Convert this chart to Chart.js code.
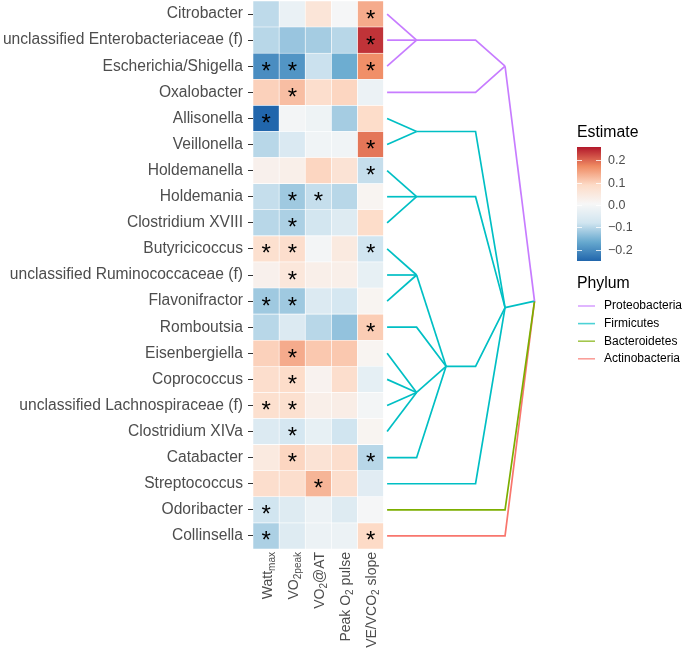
<!DOCTYPE html>
<html>
<head>
<meta charset="utf-8">
<script src="https://cdn.jsdelivr.net/npm/chart.js@4.4.0/dist/chart.umd.min.js"></script>
<style>
  html, body { margin: 0; padding: 0; background: #fff; }
  #wrap { width: 685px; height: 657px; position: relative; }
</style>
</head>
<body>
<div id="wrap"><canvas id="heat"></canvas></div>
<script>
// rows of the heatmap, top to bottom
const genera = [
  'Citrobacter', 'unclassified Enterobacteriaceae (f)', 'Escherichia/Shigella', 'Oxalobacter',
  'Allisonella', 'Veillonella', 'Holdemanella', 'Holdemania', 'Clostridium XVIII',
  'Butyricicoccus', 'unclassified Ruminococcaceae (f)', 'Flavonifractor', 'Romboutsia',
  'Eisenbergiella', 'Coprococcus', 'unclassified Lachnospiraceae (f)', 'Clostridium XIVa',
  'Catabacter', 'Streptococcus', 'Odoribacter', 'Collinsella'
];
const rowPhylum = [
  'Proteobacteria', 'Proteobacteria', 'Proteobacteria', 'Proteobacteria',
  'Firmicutes', 'Firmicutes', 'Firmicutes', 'Firmicutes', 'Firmicutes', 'Firmicutes',
  'Firmicutes', 'Firmicutes', 'Firmicutes', 'Firmicutes', 'Firmicutes', 'Firmicutes',
  'Firmicutes', 'Firmicutes', 'Firmicutes', 'Bacteroidetes', 'Actinobacteria'
];

// estimates per column
const wattMax     = [-0.095, -0.10, -0.20, 0.10, -0.25, -0.10, 0.025, -0.09, -0.10, 0.075, 0.025, -0.12, -0.10, 0.10, 0.08, 0.075, -0.055, 0.045, 0.08, -0.08, -0.11];
const vo2Peak     = [-0.025, -0.125, -0.19, 0.12, -0.005, -0.06, 0.03, -0.12, -0.11, 0.08, 0.055, -0.12, -0.055, 0.14, 0.085, 0.075, -0.07, 0.095, 0.08, -0.05, -0.05];
const vo2AT       = [0.06, -0.115, -0.085, 0.08, -0.015, -0.01, 0.095, -0.09, -0.075, -0.005, 0.03, -0.055, -0.10, 0.11, 0.02, 0.03, -0.03, 0.065, 0.13, -0.02, -0.02];
const peakO2Pulse = [0.0, -0.10, -0.16, 0.095, -0.115, -0.01, 0.065, -0.10, -0.05, 0.045, 0.03, -0.07, -0.13, 0.11, 0.08, 0.035, -0.08, 0.08, 0.08, -0.05, -0.02];
const veVco2Slope = [0.14, 0.24, 0.17, -0.02, 0.085, 0.19, -0.09, 0.015, 0.085, -0.08, -0.03, 0.015, 0.105, 0.015, -0.035, -0.005, 0.015, -0.10, -0.045, 0.0, 0.09];

// significance flags per column
const sigWattMax     = [0,0,1,0,1,0,0,0,0,1,0,1,0,0,0,1,0,0,0,1,1];
const sigVo2Peak     = [0,0,1,1,0,0,0,1,1,1,1,1,0,1,1,1,1,1,0,0,0];
const sigVo2AT       = [0,0,0,0,0,0,0,1,0,0,0,0,0,0,0,0,0,0,1,0,0];
const sigPeakO2Pulse = [0,0,0,0,0,0,0,0,0,0,0,0,0,0,0,0,0,0,0,0,0];
const sigVeVco2Slope = [1,1,1,0,0,1,1,0,0,1,0,0,1,0,0,0,0,1,0,0,1];

// column labels: [text, isSubscript]
const measureLabels = [
  [['Watt', 0], ['max', 1]],
  [['VO', 0], ['2peak', 1]],
  [['VO', 0], ['2', 1], ['@AT', 0]],
  [['Peak O', 0], ['2', 1], [' pulse', 0]],
  [['VE/VCO', 0], ['2', 1], [' slope', 0]]
];

const estimateTicks = [0.2, 0.1, 0.0, -0.1, -0.2];
const estimateLimits = [-0.25, 0.26];
const phyla = ['Proteobacteria', 'Firmicutes', 'Bacteroidetes', 'Actinobacteria'];
const phylumColors = ['#C77CFF', '#00BFC4', '#7CAE00', '#F8766D'];

// dendrogram: leaves are row indexes, level = height step
const tree = { level: 5, children: [
  { level: 4, children: [ { level: 1, children: [0, 1, 2] }, 3 ] },
  { level: 4, children: [
    { level: 1, children: [4, 5] },
    { level: 1, children: [6, 7, 8] },
    { level: 2, children: [ { level: 1, children: [9, 10, 11] }, 12, { level: 1, children: [13, 14, 15, 16] }, 17 ] },
    18
  ] },
  19,
  20
] };
const levelX = [4.64, 5.77, 6.90, 8.03, 9.16, 10.29];

const columns = [wattMax, vo2Peak, vo2AT, peakO2Pulse, veVco2Slope];
const sigColumns = [sigWattMax, sigVo2Peak, sigVo2AT, sigPeakO2Pulse, sigVeVco2Slope];

const rdbu = ['#2166AC', '#67A9CF', '#D1E5F0', '#F7F7F7', '#FDDBC7', '#EF8A62', '#B2182B'];

function hexToRgb(h) {
  return [parseInt(h.slice(1, 3), 16), parseInt(h.slice(3, 5), 16), parseInt(h.slice(5, 7), 16)];
}

function colorFor(v) {
  let t = (v - estimateLimits[0]) / (estimateLimits[1] - estimateLimits[0]);
  t = Math.max(0, Math.min(1, t));
  let pos = t * (rdbu.length - 1);
  let i = Math.min(Math.floor(pos), rdbu.length - 2);
  let f = pos - i;
  let a = hexToRgb(rdbu[i]), b = hexToRgb(rdbu[i + 1]);
  let c = a.map((x, k) => Math.round(x + (b[k] - x) * f));
  return 'rgb(' + c.join(',') + ')';
}

// layout the dendrogram and collect edges
let edges = [];
function place(node) {
  if (typeof node === 'number') {
    return { level: 0, y: node, phylum: rowPhylum[node] };
  }
  let kids = node.children.map(place);
  let me = { level: node.level, y: (kids[0].y + kids[kids.length - 1].y) / 2, phylum: kids[0].phylum };
  kids.forEach(k => {
    edges.push({
      phylum: k.phylum,
      points: [
        { x: levelX[k.level], y: k.y },
        { x: levelX[node.level - 1], y: k.y },
        { x: levelX[node.level], y: me.y }
      ]
    });
  });
  return me;
}
place(tree);

const cellDatasets = columns.map((vals, c) => ({
  type: 'bar',
  indexAxis: 'y',
  data: vals.map((v, r) => ({ x: [c - 0.5, c + 0.5], y: r })),
  backgroundColor: vals.map(colorFor),
  borderColor: '#ffffff',
  borderWidth: 0.6,
  borderSkipped: false,
  grouped: false,
  categoryPercentage: 1,
  barPercentage: 1,
  order: 2
}));

const edgeDatasets = edges.map(e => ({
  type: 'line',
  data: e.points,
  borderColor: phylumColors[phyla.indexOf(e.phylum)],
  borderWidth: 1.7,
  pointRadius: 0,
  fill: false,
  tension: 0,
  clip: false,
  order: 1
}));

const FONT = '"Liberation Sans", Arial, sans-serif';

const overlay = {
  id: 'overlay',
  afterDatasetsDraw(chart) {
    const ctx = chart.ctx;
    const xs = chart.scales.x, ys = chart.scales.y;
    ctx.save();
    ctx.fillStyle = '#000';
    ctx.font = '24px ' + FONT;
    ctx.textAlign = 'left';
    ctx.textBaseline = 'alphabetic';
    const m = ctx.measureText('*');
    const dx = (m.actualBoundingBoxRight - m.actualBoundingBoxLeft) / 2;
    const dy = (m.actualBoundingBoxAscent - m.actualBoundingBoxDescent) / 2;
    sigColumns.forEach((flags, c) => {
      flags.forEach((f, r) => {
        if (!f) return;
        ctx.fillText('*', xs.getPixelForValue(c) - dx, ys.getPixelForValue(r) + dy);
      });
    });
    ctx.restore();
  },
  afterDraw(chart) {
    const ctx = chart.ctx;
    const xs = chart.scales.x;
    const area = chart.chartArea;
    ctx.save();

    // rotated column labels with subscripts
    ctx.fillStyle = '#4D4D4D';
    ctx.textBaseline = 'alphabetic';
    ctx.textAlign = 'left';
    measureLabels.forEach((runs, c) => {
      let widths = runs.map(([t, sub]) => {
        ctx.font = (sub ? '10px ' : '14px ') + FONT;
        return ctx.measureText(t).width;
      });
      let total = widths.reduce((a, b) => a + b, 0);
      ctx.save();
      ctx.translate(xs.getPixelForValue(c), area.bottom + 3);
      ctx.rotate(-Math.PI / 2);
      let px = -total;
      runs.forEach(([t, sub], i) => {
        ctx.font = (sub ? '10px ' : '14px ') + FONT;
        ctx.fillText(t, px, sub ? 9 : 5.5);
        px += widths[i];
      });
      ctx.restore();
    });

    // colour bar legend
    const lx = 577, barTop = 147, barBottom = 261, barW = 24;
    ctx.fillStyle = '#000';
    ctx.font = '15.8px ' + FONT;
    ctx.textBaseline = 'middle';
    ctx.fillText('Estimate', lx, 133);
    const grad = ctx.createLinearGradient(0, barBottom, 0, barTop);
    rdbu.forEach((col, i) => grad.addColorStop(i / (rdbu.length - 1), col));
    ctx.fillStyle = grad;
    ctx.fillRect(lx, barTop, barW, barBottom - barTop);
    const yFor = v => barBottom - (v - estimateLimits[0]) / (estimateLimits[1] - estimateLimits[0]) * (barBottom - barTop);
    ctx.strokeStyle = 'rgba(255,255,255,0.8)';
    ctx.lineWidth = 1;
    ctx.font = '12.5px ' + FONT;
    ctx.fillStyle = '#4D4D4D';
    estimateTicks.forEach(v => {
      const y = Math.round(yFor(v)) + 0.5;
      ctx.beginPath();
      ctx.moveTo(lx, y); ctx.lineTo(lx + 5, y);
      ctx.moveTo(lx + barW - 5, y); ctx.lineTo(lx + barW, y);
      ctx.stroke();
      ctx.fillText(v === 0 ? '0.0' : (v < 0 ? '\u2212' + Math.abs(v).toFixed(1) : v.toFixed(1)), lx + barW + 7, y);
    });

    // phylum legend
    ctx.fillStyle = '#000';
    ctx.font = '15.8px ' + FONT;
    ctx.fillText('Phylum', lx, 284);
    ctx.font = '12px ' + FONT;
    phyla.forEach((p, i) => {
      const y = 306 + i * 17.6;
      ctx.strokeStyle = phylumColors[i];
      ctx.globalAlpha = 0.7;
      ctx.lineWidth = 1.6;
      ctx.beginPath();
      ctx.moveTo(lx + 1, y); ctx.lineTo(lx + 18, y);
      ctx.stroke();
      ctx.globalAlpha = 1;
      ctx.fillStyle = '#000';
      ctx.fillText(p, lx + 27, y);
    });
    ctx.restore();
  }
};

new Chart(document.getElementById('heat'), {
  type: 'bar',
  data: { datasets: [...cellDatasets, ...edgeDatasets] },
  options: {
    responsive: true,
    maintainAspectRatio: false,
    animation: false,
    events: [],
    layout: { padding: { top: 1, right: 145, bottom: 0, left: 0 } },
    plugins: { legend: { display: false }, tooltip: { enabled: false } },
    scales: {
      x: {
        type: 'linear',
        offset: false,
        min: -0.5,
        max: 10.5,
        afterBuildTicks: s => { s.ticks = columns.map((_, c) => ({ value: c })); },
        afterFit: s => { s.height = 108; s.paddingLeft = 0; s.paddingRight = 0; },
        ticks: { callback: () => '', autoSkip: false },
        grid: { display: false },
        border: { display: false }
      },
      y: {
        type: 'linear',
        offset: false,
        min: -0.5,
        max: 20.5,
        reverse: true,
        afterBuildTicks: s => { s.ticks = genera.map((_, r) => ({ value: r })); },
        afterFit: s => { s.width = 253; s.paddingTop = 0; s.paddingBottom = 0; },
        ticks: {
          callback: v => genera[v],
          autoSkip: false,
          padding: 5,
          color: '#4D4D4D',
          font: { family: FONT, size: 15.6 }
        },
        grid: { offset: false, drawOnChartArea: false, drawTicks: true, tickLength: 5, tickColor: '#333' },
        border: { display: false }
      }
    }
  },
  plugins: [overlay]
});
</script>
</body>
</html>
